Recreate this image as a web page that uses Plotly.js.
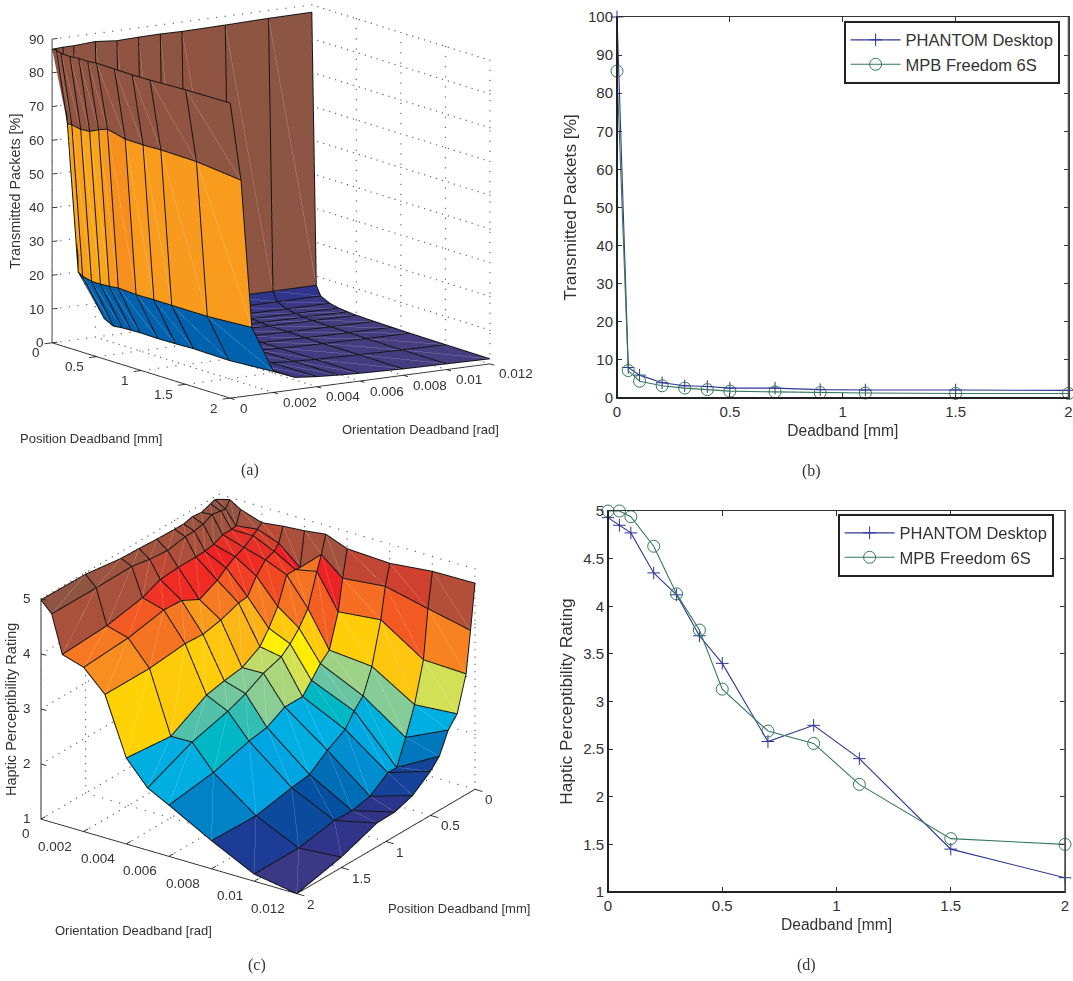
<!DOCTYPE html>
<html><head><meta charset="utf-8">
<script src="https://cdn.plot.ly/plotly-3.0.1.min.js"></script>
<style>html,body{margin:0;padding:0;background:#fff}#g{width:1073px;height:981px}</style>
</head><body><div id="g"></div>
<script>
const W=1073,H=981;
const deadband=[0,0.05,0.1,0.2,0.3,0.4,0.5,0.7,0.9,1.1,1.5,2];
const orientation=[0,0.0005,0.001,0.002,0.003,0.004,0.005,0.006,0.008,0.01,0.012];
// Panel (a): transmitted packets, one row per position deadband, one column per orientation deadband
const packets=[
[87.0,87.2,87.2,87.6,87.0,87.2,87.3,87.2,87.4,87.7,87.8],
[87.2,65.0,20.6,8.3,7.5,7.3,7.2,7.2,7.2,7.2,7.3],
[86.6,65.0,19.7,6.3,5.0,4.8,4.7,4.6,4.5,4.5,4.5],
[86.5,64.5,19.0,4.9,4.2,3.8,3.6,3.5,3.3,3.2,3.2],
[86.8,64.7,19.0,5.2,3.9,3.4,3.2,3.0,2.8,2.7,2.6],
[86.7,66.0,19.2,5.3,3.8,3.2,2.9,2.7,2.5,2.4,2.3],
[87.0,67.0,19.5,5.4,3.7,3.1,2.8,2.6,2.3,2.2,2.1],
[86.9,65.7,19.2,5.3,3.7,3.0,2.7,2.5,2.2,2.0,1.9],
[86.8,65.6,19.3,5.4,3.6,3.0,2.6,2.4,2.1,1.9,1.8],
[86.9,65.8,19.3,5.6,3.6,3.0,2.6,2.3,2.0,1.8,1.7],
[87.3,65.6,19.3,5.4,3.6,3.0,2.6,2.3,2.0,1.7,1.6],
[87.5,64.2,20.1,6.2,3.6,3.0,2.6,2.3,1.9,1.7,1.5]];
// Panel (c): perceptibility rating, same grid
const rating=[
[4.91,4.96,4.84,4.71,4.76,4.79,4.84,4.69,4.65,4.73,4.74],
[4.95,4.84,4.59,4.64,4.50,4.17,4.52,4.20,4.28,4.10,3.93],
[4.92,4.85,4.57,4.57,4.40,4.18,4.26,3.64,3.72,3.22,3.19],
[4.86,4.88,4.57,4.45,4.34,4.18,3.68,3.04,2.97,2.50,2.56],
[4.88,4.80,4.49,4.38,4.14,3.70,3.42,2.89,2.53,2.00,2.36],
[4.84,4.77,4.46,4.27,3.86,3.40,3.23,2.68,2.35,1.55,1.98],
[4.84,4.76,4.45,4.14,3.84,3.16,3.09,2.48,2.11,1.55,1.80],
[4.85,4.70,4.45,3.98,3.72,2.97,2.98,2.48,1.92,1.31,1.55],
[4.87,4.73,4.42,4.15,3.65,2.92,2.80,2.30,1.67,1.24,1.44],
[4.88,4.79,4.28,4.17,3.67,2.85,2.67,2.24,1.62,1.25,1.43],
[4.97,4.78,4.15,4.04,3.60,2.48,2.49,2.05,1.49,1.13,1.19],
[4.98,4.78,4.10,3.98,3.60,2.56,2.13,1.93,1.51,1.13,1.00]];
// Panels (b), (d)
const packetsPhantom=[100,8,6,4,3.2,3,2.6,2.6,2.2,2.1,2.1,2];
const packetsFreedom=[85.8,7.2,4.4,3.2,2.6,2.2,1.8,1.6,1.4,1.3,1.2,1.2];
const ratingPhantom=[4.93,4.85,4.77,4.35,4.12,3.69,3.4,2.58,2.75,2.4,1.45,1.15];
const ratingFreedom=[5,5,4.94,4.63,4.13,3.75,3.13,2.69,2.56,2.13,1.56,1.5];
const positionTicks=[0,0.5,1,1.5,2];
const orientationTicks=[0,0.002,0.004,0.006,0.008,0.01,0.012];
const packetTicks=[0,10,20,30,40,50,60,70,80,90];
const ratingTicks=[1,2,3,4,5];
const cmapStops=[[0,72,62,128],[.05,52,52,135],[.11,35,55,145],[.18,0,85,165],[.25,0,120,190],[.3,0,160,225],[.375,0,175,225],[.43,0,185,190],[.47,100,195,165],[.5,145,207,145],[.55,205,222,95],[.6,255,240,0],[.65,255,210,5],[.7,253,190,20],[.75,248,150,30],[.8,245,110,35],[.875,238,30,36],[.9,225,55,40],[.935,175,80,58],[1,140,85,68]];

function cmap(t){t=Math.max(0,Math.min(1,t));
 for(let i=1;i<cmapStops.length;i++){const a=cmapStops[i-1],b=cmapStops[i];
  if(t<=b[0]){const u=(t-a[0])/(b[0]-a[0]);
   return `rgb(${[1,2,3].map(k=>Math.round(a[k]+u*(b[k]-a[k]))).join(',')})`;}}
 return 'rgb(140,85,68)';}

// lift: small shift of the wire lines toward the camera, so that they are not hidden by the faces they lie on (no effect on screen position)
function surfaceTraces(sc,Z,zmin,zmax,lift){
 const xs=[],ys=[],zs=[],I=[],J=[],K=[],fc=[];
 const n=deadband.length,m=orientation.length;
 for(let a=0;a<n;a++)for(let b=0;b<m;b++){xs.push(deadband[a]);ys.push(orientation[b]);zs.push(Z[a][b]);}
 for(let a=0;a<n-1;a++)for(let b=0;b<m-1;b++){
  const p=a*m+b,q=p+1,r=p+m,s=r+1,c=cmap((Z[a][b]-zmin)/(zmax-zmin));
  I.push(p,p);J.push(q,s);K.push(s,r);fc.push(c,c);}
 const wire={x:[],y:[],z:[]},seam={x:[],y:[],z:[]};
 const put=(X,a,b)=>{X.x.push(deadband[a]+lift[0]);X.y.push(orientation[b]+lift[1]);X.z.push(Z[a][b]+lift[2]);};
 const brk=t=>{t.x.push(null);t.y.push(null);t.z.push(null);};
 for(let a=0;a<n;a++){for(let b=0;b<m;b++)put(wire,a,b);brk(wire);}
 for(let b=0;b<m;b++){for(let a=0;a<n;a++)put(wire,a,b);brk(wire);}
 for(let a=0;a<n-1;a++)for(let b=0;b<m-1;b++){put(seam,a,b);put(seam,a+1,b+1);brk(seam);}
 return [{type:'mesh3d',scene:sc,x:xs,y:ys,z:zs,i:I,j:J,k:K,facecolor:fc,flatshading:true,hoverinfo:'skip',showscale:false,
   lighting:{ambient:1,diffuse:0,specular:0,roughness:1,fresnel:0},lightposition:{x:0,y:0,z:1000}},
  {type:'scatter3d',scene:sc,mode:'lines',x:seam.x,y:seam.y,z:seam.z,opacity:0.3,line:{color:'#ffffff',width:1},hoverinfo:'skip',showlegend:false,connectgaps:false},
  {type:'scatter3d',scene:sc,mode:'lines',x:wire.x,y:wire.y,z:wire.z,line:{color:'#151515',width:2},hoverinfo:'skip',showlegend:false,connectgaps:false}];
}
function boxTraces(sc,ztk,at,zAxisX,zAxisY,tx,ty,tz){
 const P0=0,P1=2,O0=0,O1=0.012,Z0=ztk[0],Z1=ztk[ztk.length-1];
 const xWall=at.wallX,yWall=at.wallY;
 const d={x:[],y:[],z:[]},s={x:[],y:[],z:[]};
 const seg=(t,a,b)=>{t.x.push(a[0],b[0],null);t.y.push(a[1],b[1],null);t.z.push(a[2],b[2],null);};
 const dots=(a,b)=>{const N=30;for(let i=0;i<=N;i++){const u=i/N;d.x.push(a[0]+u*(b[0]-a[0]));d.y.push(a[1]+u*(b[1]-a[1]));d.z.push(a[2]+u*(b[2]-a[2]));}};
 ztk.forEach(z=>{dots([xWall,O0,z],[xWall,O1,z]);dots([P0,yWall,z],[P1,yWall,z]);});
 orientationTicks.forEach(o=>{dots([xWall,o,Z0],[xWall,o,Z1]);dots([P0,o,Z0],[P1,o,Z0]);});
 positionTicks.forEach(p=>{dots([p,yWall,Z0],[p,yWall,Z1]);dots([p,O0,Z0],[p,O1,Z0]);});
 seg(s,[P0,at.oAtP,Z0],[P1,at.oAtP,Z0]);
 seg(s,[at.pAtO,O0,Z0],[at.pAtO,O1,Z0]);
 seg(s,[zAxisX,zAxisY,Z0],[zAxisX,zAxisY,Z1]);
 positionTicks.forEach(p=>seg(s,[p,at.oAtP,Z0],[p,at.oAtP+tx,Z0]));
 orientationTicks.forEach(o=>seg(s,[at.pAtO,o,Z0],[at.pAtO+ty,o,Z0]));
 ztk.forEach(z=>seg(s,[zAxisX,zAxisY,z],[zAxisX,zAxisY+tz,z]));
 return [
  {type:'scatter3d',scene:sc,mode:'markers',x:d.x,y:d.y,z:d.z,marker:{color:'#666',size:0.8,line:{width:0}},hoverinfo:'skip',showlegend:false},
  {type:'scatter3d',scene:sc,mode:'lines',x:s.x,y:s.y,z:s.z,line:{color:'#2a2a2a',width:1.8},hoverinfo:'skip',showlegend:false}];
}
function ann3(x,y,z,text,xanchor,xs,ys){return {x,y,z,text:String(text),showarrow:false,xanchor,yanchor:'middle',xshift:xs,yshift:ys,font:{family:'Liberation Sans, Arial',size:13.5,color:'#333'}};}
// the scene ranges have a margin of 5% on each side, so that wire lines and tick marks just outside the box are not clipped; the aspect ratios grow by the same factor
const PAD=1.1;
function padded(a,b){const m=(b-a)*(PAD-1)/2;return [a-m,b+m];}
function sceneAxis(a,b){return {range:padded(a,b),autorange:false,showgrid:false,zeroline:false,showline:false,showticklabels:false,ticks:'',showspikes:false,showbackground:false,title:{text:''}};}
function domX(a,b){return [a/W,b/W];}function domY(a,b){return [1-b/H,1-a/H];}
function eye(azDeg,elDeg,E){const a=azDeg*Math.PI/180,e=elDeg*Math.PI/180;return {x:E*Math.cos(a)*Math.cos(e),y:E*Math.sin(a)*Math.cos(e),z:E*Math.sin(e)};}
function liftFor(e,asp,rx,ry,rz,d){const n=Math.hypot(e.x,e.y,e.z);return [d*e.x/n*rx/asp.x,d*e.y/n*ry/asp.y,d*e.z/n*rz/asp.z];}

const eyeA=eye(-33.1,11.7,8),eyeC=eye(35.2,24.4,8);
const aspA={x:1.643,y:1.562,z:1.562},aspC={x:1.508,y:1.527,z:1.181};
const grown=a=>({x:a.x*PAD,y:a.y*PAD,z:a.z*PAD});
const traces=[];
traces.push(...boxTraces('scene',packetTicks,{wallX:0,wallY:0.012,oAtP:0,pAtO:2},0,0,-0.00035,0.05,0.00025));
traces.push(...surfaceTraces('scene',packets,1.5,87.8,liftFor(eyeA,aspA,2,0.012,90,0.02)));
traces.push(...boxTraces('scene2',ratingTicks,{wallX:0,wallY:0,oAtP:0.012,pAtO:2},2,0,0.00035,-0.05,0.00025));
traces.push(...surfaceTraces('scene2',rating,1,5,liftFor(eyeC,aspC,2,0.012,4,0.02)));

const blue='#2f3596',green='#35795c';
function lineTrace(x,y,name,col,sym,size,xa,ya,leg){return {type:'scatter',mode:'lines+markers',x,y,name,xaxis:xa,yaxis:ya,legend:leg,cliponaxis:false,
  line:{color:col,width:1.1},marker:{symbol:sym,size,color:col,line:{color:col,width:1}},hoverinfo:'skip'};}
traces.push(lineTrace(deadband,packetsPhantom,'PHANTOM Desktop',blue,'cross-thin-open',9,'x','y','legend'));
traces.push(lineTrace(deadband,packetsFreedom,'MPB Freedom 6S',green,'circle-open',12,'x','y','legend'));
traces.push(lineTrace(deadband,ratingPhantom,'PHANTOM Desktop',blue,'cross-thin-open',9,'x2','y2','legend2'));
traces.push(lineTrace(deadband,ratingFreedom,'MPB Freedom 6S',green,'circle-open',12,'x2','y2','legend2'));

const tickFont={family:'Liberation Sans, Arial',size:15,color:'#333'};
function ax2(domain,range,dtick,title,anchor,extra){return Object.assign({domain,range,dtick,tick0:0,anchor,showgrid:false,zeroline:false,showline:true,linecolor:'#333',linewidth:1,mirror:'allticks',ticks:'inside',ticklen:5,tickcolor:'#333',tickwidth:1,tickfont:tickFont,
  title:{text:title,font:{family:'Liberation Sans, Arial',size:title.startsWith('Dead')?15.6:17.3,color:'#333'},standoff:6}},extra||{});}
function note(px,py,text,size,family,rot){return {xref:'paper',yref:'paper',x:px/W,y:1-py/H,text,showarrow:false,textangle:rot||0,xanchor:'center',yanchor:'middle',font:{family,size,color:'#333'}};}
const sans='Liberation Sans, Arial',serif='Liberation Serif, Times New Roman';
function heavyFrame(xa,ya){const l={color:'#222',width:2};return [
  {type:'line',xref:xa+' domain',yref:ya+' domain',x0:0,x1:0,y0:0,y1:1,line:l},
  {type:'line',xref:xa+' domain',yref:ya+' domain',x0:0,x1:1,y0:0,y1:0,line:l},
  {type:'line',xref:xa+' domain',yref:ya+' domain',x0:1,x1:1,y0:0,y1:1,line:{color:'#555',width:1.6}}];}

const layout={width:W,height:H,margin:{l:0,r:0,t:0,b:0},paper_bgcolor:'#fff',plot_bgcolor:'#fff',showlegend:true,hovermode:false,
 shapes:[...heavyFrame('x','y'),...heavyFrame('x2','y2')],
 scene:{domain:{x:domX(5.5,535.5),y:domY(3,400)},aspectmode:'manual',aspectratio:grown(aspA),
  camera:{eye:eyeA,center:{x:0,y:0,z:0},up:{x:0,y:0,z:1},projection:{type:'orthographic'}},
  xaxis:sceneAxis(0,2),yaxis:sceneAxis(0,0.012),zaxis:sceneAxis(0,90),bgcolor:'rgba(0,0,0,0)',
  annotations:[
   ...packetTicks.map(z=>ann3(0,0,z,z,'right',-6,0)),
   ...positionTicks.map(p=>ann3(p,0,0,p,'right',-10,-10)),
   ...orientationTicks.map(o=>ann3(2,o,0,o,'left',8,-10))]},
 scene2:{domain:{x:domX(7.5,507.5),y:domY(488.5,898.5)},aspectmode:'manual',aspectratio:grown(aspC),
  camera:{eye:eyeC,center:{x:0,y:0,z:0},up:{x:0,y:0,z:1},projection:{type:'orthographic'}},
  xaxis:sceneAxis(0,2),yaxis:sceneAxis(0,0.012),zaxis:sceneAxis(1,5),bgcolor:'rgba(0,0,0,0)',
  annotations:[
   ...ratingTicks.map(z=>ann3(2,0,z,z,'right',-8,0)),
   ...orientationTicks.map(o=>ann3(2,o,1,o,'right',-9,-15)),
   ...positionTicks.map(p=>ann3(p,0.012,1,p,'left',9,-11))]},
 xaxis:ax2([617/W,1068.5/W],[0,2],0.5,'Deadband [mm]','y'),
 yaxis:ax2([1-398/H,1-17/H],[0,100],10,'Transmitted Packets [%]','x'),
 xaxis2:ax2([608/W,1065/W],[0,2],0.5,'Deadband [mm]','y2'),
 yaxis2:ax2([1-892/H,1-511/H],[1,5],0.5,'Haptic Perceptibility Rating','x2'),
 legend:{x:1060/W,y:1-21/H,xanchor:'right',yanchor:'top',bordercolor:'#222',borderwidth:1.6,bgcolor:'#fff',font:{family:sans,size:16.5,color:'#333'},itemwidth:50,tracegroupgap:0},
 legend2:{x:1054/W,y:1-514/H,xanchor:'right',yanchor:'top',bordercolor:'#222',borderwidth:1.6,bgcolor:'#fff',font:{family:sans,size:16.5,color:'#333'},itemwidth:50,tracegroupgap:0},
 annotations:[
  note(250,470,'(a)',16,serif),note(811,471,'(b)',16,serif),note(257,965,'(c)',16,serif),note(806,965,'(d)',16,serif),
  note(15,192,'Transmitted Packets [%]',14.4,sans,-90),
  note(91,438,'Position Deadband [mm]',13,sans),
  note(420,429,'Orientation Deadband [rad]',13,sans),
  note(11,710,'Haptic Perceptibility Rating',14.5,sans,-90),
  note(133,930,'Orientation Deadband [rad]',13,sans),
  note(459,908,'Position Deadband [mm]',13,sans)]
};
Plotly.newPlot('g',traces,layout,{displayModeBar:false,responsive:false});
</script></body></html>
